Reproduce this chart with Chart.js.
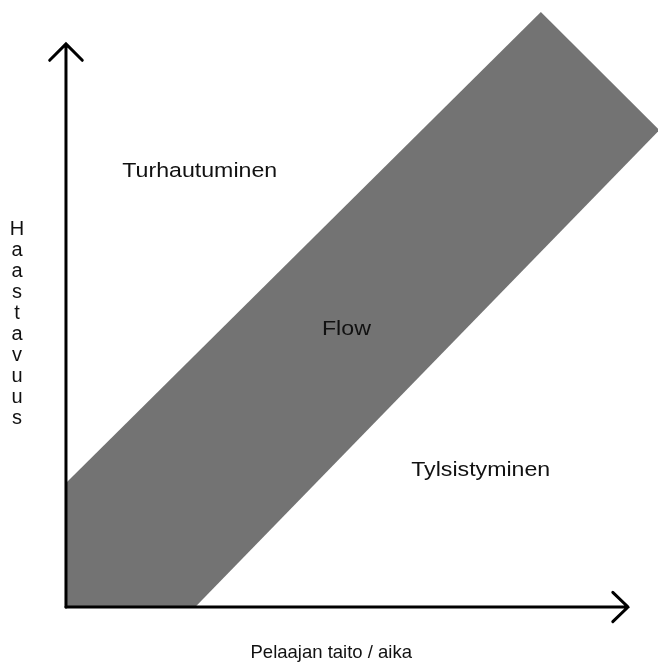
<!DOCTYPE html>
<html>
<head>
<meta charset="utf-8">
<script src="https://cdn.jsdelivr.net/npm/chart.js@4.4.1/dist/chart.umd.min.js"></script>
<style>
  html, body { margin: 0; padding: 0; background: #fff; }
  canvas { display: block; }
</style>
</head>
<body>
<canvas id="flow" width="658" height="663"></canvas>
<script>
// flow-kanavan kulmat (taito, haaste)
const bandSkill = [0, 0, 8.45, 10.56, 2.30];
const bandChallenge = [0, 2.20, 10.57, 8.47, 0];
// tekstit
const regionLabels = ['Turhautuminen', 'Flow', 'Tylsistyminen'];
const xTitle = 'Pelaajan taito / aika';
const yTitle = 'Haastavuus';
const axisMax = 10;

const FONT = '"Liberation Sans", Arial, sans-serif';

// akselit nuolineen + tekstit
const flowDecor = {
    id: 'flowDecor',
    afterDatasetsDraw(chart) {
        const { ctx, scales: { x, y } } = chart;
        const px = v => x.getPixelForValue(v);
        const py = v => y.getPixelForValue(v);

        ctx.save();
        ctx.strokeStyle = '#000';
        ctx.lineWidth = 3;
        ctx.lineCap = 'round';
        ctx.lineJoin = 'miter';

        // pystyakseli
        ctx.beginPath();
        ctx.moveTo(px(0), py(0));
        ctx.lineTo(px(0), py(axisMax));
        ctx.moveTo(px(-0.29), py(axisMax - 0.29));
        ctx.lineTo(px(0), py(axisMax));
        ctx.lineTo(px(0.29), py(axisMax - 0.29));
        ctx.stroke();

        // vaaka-akseli
        ctx.beginPath();
        ctx.moveTo(px(0), py(0));
        ctx.lineTo(px(axisMax), py(0));
        ctx.moveTo(px(axisMax - 0.27), py(0.26));
        ctx.lineTo(px(axisMax), py(0));
        ctx.lineTo(px(axisMax - 0.27), py(-0.26));
        ctx.stroke();

        ctx.fillStyle = '#111';
        ctx.textAlign = 'center';
        ctx.textBaseline = 'alphabetic';

        // alueiden nimet (hieman leveämpi fontti)
        const spots = [[2.38, 7.64], [4.99, 4.83], [7.38, 2.33]];
        ctx.font = '20.5px ' + FONT;
        regionLabels.forEach((t, i) => {
            ctx.save();
            ctx.translate(px(spots[i][0]), py(spots[i][1]));
            ctx.scale(1.13, 1);
            ctx.fillText(t, 0, 0);
            ctx.restore();
        });

        // x-otsikko
        ctx.font = '18.5px ' + FONT;
        ctx.fillText(xTitle, px(4.72), py(-0.90));

        // y-otsikko pystyyn kirjain kerrallaan
        ctx.font = '20px ' + FONT;
        ctx.textBaseline = 'middle';
        [...yTitle].forEach((ch, i) => {
            ctx.fillText(ch, px(-0.87), py(6.71 - i * 0.373));
        });
        ctx.restore();
    }
};

new Chart(document.getElementById('flow'), {
    type: 'scatter',
    data: {
        datasets: [{
            data: bandSkill.map((s, i) => ({ x: s, y: bandChallenge[i] })),
            showLine: true,
            fill: 'shape',
            backgroundColor: '#737373',
            borderColor: '#737373',
            borderWidth: 0,
            pointRadius: 0,
            tension: 0
        }]
    },
    options: {
        responsive: false,
        animation: false,
        devicePixelRatio: 1,
        layout: { padding: 0 },
        plugins: { legend: { display: false }, tooltip: { enabled: false } },
        scales: {
            x: { type: 'linear', display: false, min: -1.174, max: 10.534 },
            y: { type: 'linear', display: false, min: -0.995, max: 10.781 }
        }
    },
    plugins: [flowDecor]
});
</script>
</body>
</html>
